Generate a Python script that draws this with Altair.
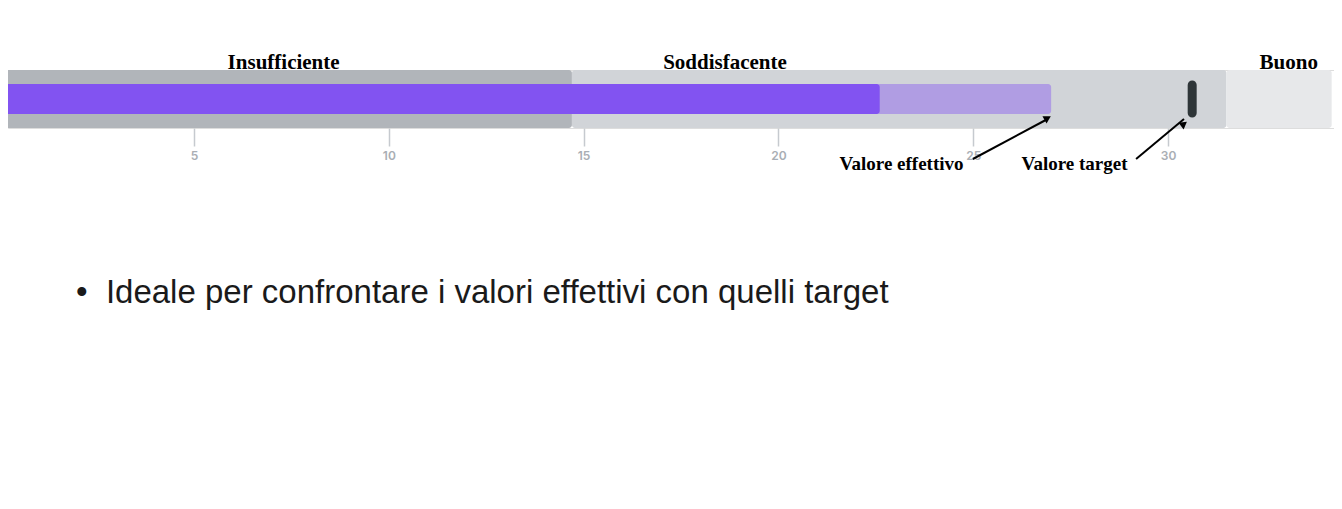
import altair as alt
import pandas as pd

# --- data -------------------------------------------------------------
band_names = ["Insufficiente", "Soddisfacente", "Buono"]
band_start = [0.0, 14.7, 31.5]
band_end = [14.7, 31.5, 34.2]
band_colors = ["#b1b5ba", "#d1d4d8", "#e7e8ea"]
label_x = [7.3, 18.63, 33.1]

actual_value = 22.6
projected_value = 27.0
target_value = 30.62

tick_values = [5, 10, 15, 20, 25, 30]

annot_text = ["Valore effettivo", "Valore target"]
annot_x = [23.16, 27.6]
arrow_tail_x = [24.99, 29.18]
arrow_head_x = [26.91, 30.41]

bullet_text = "•\u00a0 Ideale per confrontare i valori effettivi con quelli target"

# --- tables -----------------------------------------------------------
row = "r"
bands = pd.DataFrame({"name": band_names, "start": band_start, "end": band_end,
                      "row": row})
labels = pd.DataFrame({"name": band_names, "x": label_x, "row": row})
projected = pd.DataFrame({"start": [0.0], "end": [projected_value], "row": row})
actual = pd.DataFrame({"start": [0.0], "end": [actual_value], "row": row})
target = pd.DataFrame({"v": [target_value], "row": row})
annots = pd.DataFrame({"t": annot_text, "x": annot_x, "row": row})
arrows = pd.DataFrame({"x": arrow_tail_x, "x2": arrow_head_x})

xscale = alt.Scale(domain=[0.226, 34.26], nice=False, zero=False)
yscale = alt.Scale(paddingInner=0, paddingOuter=0)
Y = alt.Y("row:N", scale=yscale, axis=None)

band_layer = alt.Chart(bands).mark_bar(cornerRadius=3, clip=True).encode(
    x=alt.X("start:Q", scale=xscale,
            axis=alt.Axis(values=tick_values, domain=False, grid=False,
                          tickSize=18, tickColor="#c6cacf", tickWidth=1.5,
                          labelColor="#a9aeb4", labelFontSize=12,
                          labelFontWeight=600,
                          labelFont="Inter", labelPadding=4, title=None)),
    x2="end:Q",
    y=Y,
    color=alt.Color("name:N", scale=alt.Scale(domain=band_names, range=band_colors),
                    legend=None),
)

label_layer = alt.Chart(labels).mark_text(
    font="Liberation Serif", fontWeight="bold", fontSize=21, color="#000000",
    baseline="alphabetic", dy=-30.5,
).encode(x=alt.X("x:Q", scale=xscale), y=Y, text="name:N")

projected_layer = alt.Chart(projected).mark_bar(
    cornerRadius=3, size=30, clip=True, color="#b09de3",
).encode(x=alt.X("start:Q", scale=xscale), x2="end:Q", y=Y)

actual_layer = alt.Chart(actual).mark_bar(
    cornerRadius=3, size=30, clip=True, color="#8253f1",
).encode(x=alt.X("start:Q", scale=xscale), x2="end:Q", y=Y)

target_layer = alt.Chart(target).mark_tick(
    thickness=9, size=37, color="#2e3538", cornerRadius=4.5, opacity=1,
).encode(x=alt.X("v:Q", scale=xscale), y=Y)

annot_layer = alt.Chart(annots).mark_text(
    font="Liberation Serif", fontWeight="bold", fontSize=19, color="#000000",
    baseline="alphabetic", dy=71,
).encode(x=alt.X("x:Q", scale=xscale), y=Y, text="t:N")

arrow_lines = alt.Chart(arrows).mark_rule(color="#000000", strokeWidth=2).encode(
    x=alt.X("x:Q", scale=xscale), x2="x2:Q",
    y=alt.value(89), y2=alt.value(49),
)

head1 = alt.Chart(arrows.iloc[[0]]).mark_point(
    shape="triangle-up", filled=True, color="#000000", size=70, angle=60.5,
    opacity=1,
).encode(x=alt.X("x2:Q", scale=xscale), y=alt.value(48))
head2 = alt.Chart(arrows.iloc[[1]]).mark_point(
    shape="triangle-up", filled=True, color="#000000", size=70, angle=53,
    opacity=1,
).encode(x=alt.X("x2:Q", scale=xscale), y=alt.value(54))

chart = alt.layer(
    band_layer, label_layer, projected_layer, actual_layer, target_layer,
    annot_layer, arrow_lines, head1, head2,
).properties(
    width=1326, height=58,
    autosize=alt.AutoSizeParams(type="none"),
    padding={"left": 0, "right": 0, "top": 62, "bottom": 280},
    title=alt.TitleParams(bullet_text, orient="bottom", anchor="start",
                          font="Liberation Sans", fontSize=33, fontWeight="normal",
                          color="#1a1a1a", dx=68, offset=103),
).configure_view(stroke=None).configure(background="#ffffff")

chart.save("out.html", embed_options={"renderer": "svg", "actions": False})
